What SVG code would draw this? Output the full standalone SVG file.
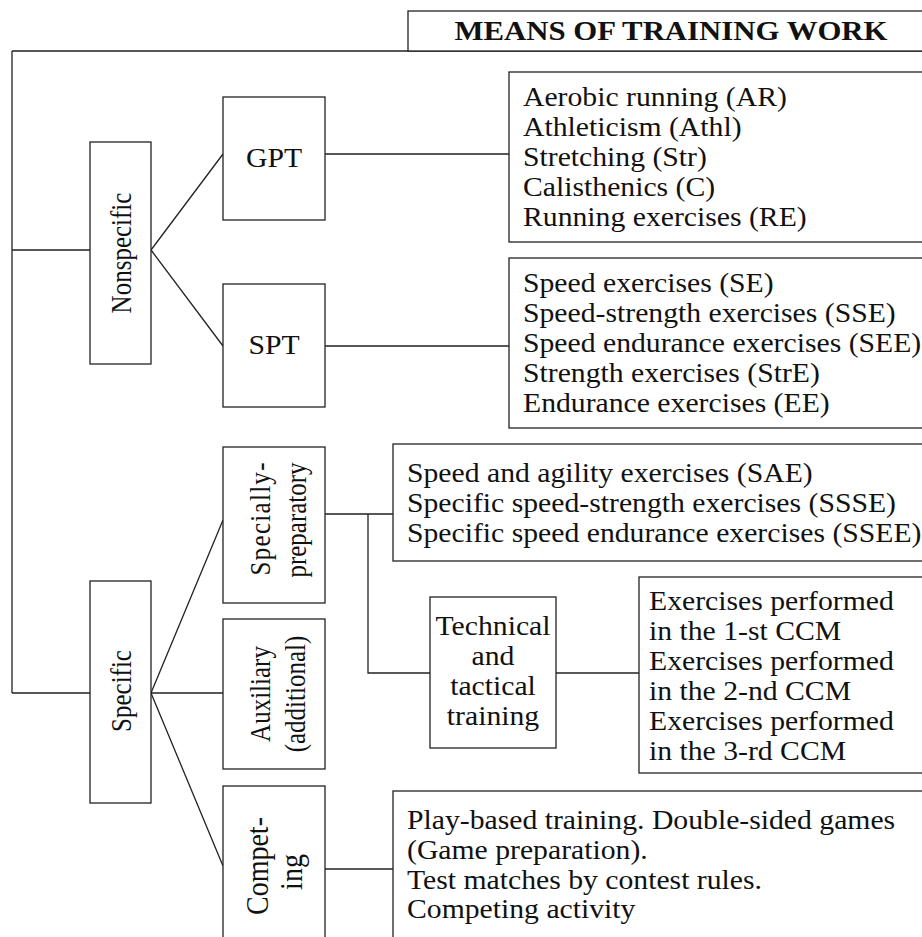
<svg xmlns="http://www.w3.org/2000/svg" width="922" height="937" viewBox="0 0 922 937">
<style>
.box{fill:#fff;stroke:#222;stroke-width:1.3}
.ln{fill:none;stroke:#222;stroke-width:1.3}
.t{font-family:"Liberation Serif","Times New Roman",serif;font-size:27px;fill:#111}
.r{font-family:"Liberation Serif","Times New Roman",serif;font-size:25px;fill:#111;text-anchor:middle}
.m{text-anchor:middle}
.b{font-weight:bold;font-size:27.5px}
</style>
<rect width="922" height="937" fill="#fff"/>
<g id="connectors">
<path class="ln" d="M12,51 H930 M12,51 V693"/>
<path class="ln" d="M12,250 H90 M12,693 H90"/>
<path class="ln" d="M151,250 L223,154 M151,250 L223,346"/>
<path class="ln" d="M151,693 L223,520 M151,693 H223 M151,693 L223,866"/>
<path class="ln" d="M325,154 H509 M325,346 H509"/>
<path class="ln" d="M325,514 H393 M368,514 V673 H430"/>
<path class="ln" d="M556,673 H639"/>
<path class="ln" d="M325,869 H393"/>
</g>
<g id="title">
<rect class="box" x="408" y="11" width="530" height="40"/>
<text class="t m b" transform="translate(671,40) scale(1.12,1)">MEANS OF TRAINING WORK</text>
</g>
<g id="nonspecific">
<rect class="box" x="90" y="142" width="61" height="222"/>
<text class="r" transform="translate(131,253) scale(1.2,1) rotate(-90)">Nonspecific</text>
</g>
<g id="gpt">
<rect class="box" x="223" y="97" width="102" height="123"/>
<text class="t m" transform="translate(274,167) scale(1.1,1)">GPT</text>
</g>
<g id="spt">
<rect class="box" x="223" y="284" width="102" height="123"/>
<text class="t m" transform="translate(274,354) scale(1.1,1)">SPT</text>
</g>
<g id="gpt-list">
<rect class="box" x="509" y="72" width="430" height="170"/>
<text class="t" transform="translate(523,106) scale(1.1,1)"><tspan x="0" y="0">Aerobic running (AR)</tspan><tspan x="0" y="30">Athleticism (Athl)</tspan><tspan x="0" y="60">Stretching (Str)</tspan><tspan x="0" y="90">Calisthenics (C)</tspan><tspan x="0" y="120">Running exercises (RE)</tspan></text>
</g>
<g id="spt-list">
<rect class="box" x="509" y="258" width="430" height="170"/>
<text class="t" transform="translate(523,292) scale(1.1,1)"><tspan x="0" y="0">Speed exercises (SE)</tspan><tspan x="0" y="30">Speed-strength exercises (SSE)</tspan><tspan x="0" y="60">Speed endurance exercises (SEE)</tspan><tspan x="0" y="90">Strength exercises (StrE)</tspan><tspan x="0" y="120">Endurance exercises (EE)</tspan></text>
</g>
<g id="specific">
<rect class="box" x="90" y="581" width="61" height="222"/>
<text class="r" transform="translate(131,691) scale(1.2,1) rotate(-90)">Specific</text>
</g>
<g id="specially-preparatory">
<rect class="box" x="223" y="447" width="102" height="156"/>
<text class="r" transform="translate(270,519) scale(1.2,1) rotate(-90)" textLength="113" lengthAdjust="spacing">Specially-</text>
<text class="r" transform="translate(306,520) scale(1.2,1) rotate(-90)">preparatory</text>
</g>
<g id="auxiliary">
<rect class="box" x="223" y="619" width="102" height="150"/>
<text class="r" transform="translate(270,694) scale(1.2,1) rotate(-90)">Auxiliary</text>
<text class="r" transform="translate(305,694) scale(1.2,1) rotate(-90)">(additional)</text>
</g>
<g id="competing">
<rect class="box" x="223" y="786" width="102" height="170"/>
<text class="r" style="font-size:28px" transform="translate(268,866) scale(1.15,1) rotate(-90)">Compet-</text>
<text class="r" style="font-size:28px" transform="translate(302,872) scale(1.15,1) rotate(-90)">ing</text>
</g>
<g id="sp-list">
<rect class="box" x="393" y="444" width="545" height="117"/>
<text class="t" transform="translate(407,482) scale(1.1,1)"><tspan x="0" y="0">Speed and agility exercises (SAE)</tspan><tspan x="0" y="30">Specific speed-strength exercises (SSSE)</tspan><tspan x="0" y="60">Specific speed endurance exercises (SSEE)</tspan></text>
</g>
<g id="technical-tactical">
<rect class="box" x="430" y="597" width="126" height="151"/>
<text class="t m" transform="translate(493,635) scale(1.1,1)"><tspan x="0" y="0">Technical</tspan><tspan x="0" y="30">and</tspan><tspan x="0" y="60">tactical</tspan><tspan x="0" y="90">training</tspan></text>
</g>
<g id="ccm-list">
<rect class="box" x="639" y="577" width="300" height="196"/>
<text class="t" transform="translate(649,610) scale(1.1,1)"><tspan x="0" y="0">Exercises performed</tspan><tspan x="0" y="30">in the 1-st CCM</tspan><tspan x="0" y="60">Exercises performed</tspan><tspan x="0" y="90">in the 2-nd CCM</tspan><tspan x="0" y="120">Exercises performed</tspan><tspan x="0" y="150">in the 3-rd CCM</tspan></text>
</g>
<g id="competing-list">
<rect class="box" x="393" y="791" width="545" height="170"/>
<text class="t" transform="translate(407,829) scale(1.1,1)"><tspan x="0" y="0">Play-based training. Double-sided games</tspan><tspan x="0" y="30">(Game preparation).</tspan><tspan x="0" y="60">Test matches by contest rules.</tspan><tspan x="0" y="89">Competing activity</tspan></text>
</g>
</svg>
